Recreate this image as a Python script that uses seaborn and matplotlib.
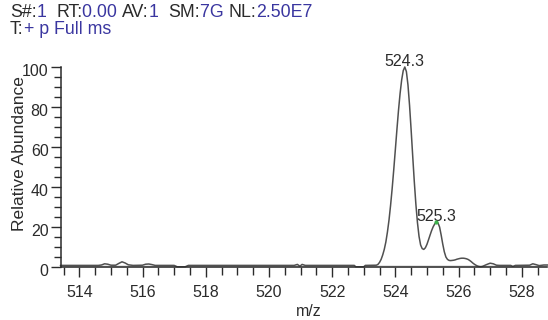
import matplotlib
matplotlib.use("Agg")
import matplotlib.pyplot as plt
from matplotlib.ticker import MultipleLocator, FixedLocator
from matplotlib.transforms import ScaledTranslation
import seaborn as sns

# Profile spectrum: m/z and relative abundance (%)
mz = [
    513.40, 514.60, 514.70, 514.80, 514.90, 515.00, 515.15, 515.25, 515.35, 515.45,
    515.55, 515.70, 516.00, 516.10, 516.20, 516.30, 516.40, 517.00, 517.10, 517.35,
    517.45, 520.80, 520.90, 520.98, 521.05, 521.15, 522.70, 522.75, 523.00, 523.05,
    523.40, 523.45, 523.50, 523.55, 523.60, 523.65, 523.70, 523.75, 523.80, 523.85,
    523.90, 523.95, 524.00, 524.05, 524.10, 524.15, 524.20, 524.25, 524.30, 524.35,
    524.40, 524.45, 524.50, 524.55, 524.60, 524.65, 524.70, 524.75, 524.80, 524.85,
    524.90, 524.95, 525.00, 525.05, 525.10, 525.15, 525.20, 525.25, 525.30, 525.35,
    525.40, 525.45, 525.50, 525.55, 525.60, 525.65, 525.70, 525.75, 525.80, 525.85,
    525.90, 525.95, 526.00, 526.05, 526.10, 526.15, 526.20, 526.25, 526.30, 526.35,
    526.40, 526.45, 526.50, 526.55, 526.60, 526.65, 526.70, 526.75, 526.80, 526.90,
    527.00, 527.10, 527.20, 527.30, 527.65, 527.72, 527.80, 528.25, 528.35, 528.45,
    528.55, 528.70, 528.85,
]
abundance = [
    0.8, 0.8, 1.0, 1.6, 1.4, 0.9, 0.9, 1.8, 2.6, 2.0,
    1.1, 0.8, 0.9, 1.4, 1.5, 1.2, 0.8, 0.8, 0.1, 0.1,
    0.8, 0.8, 1.3, 0.4, 1.3, 0.8, 0.8, 0.1, 0.1, 0.8,
    0.9, 1.3, 2.3, 3.8, 6.0, 8.8, 12.5, 17.5, 23.5, 30.9,
    39.3, 48.7, 58.6, 68.7, 78.3, 86.7, 93.5, 98.2, 100.0, 97.7,
    91.0, 80.8, 68.5, 55.4, 42.7, 31.4, 22.2, 15.3, 11.0, 9.2,
    8.8, 9.6, 11.3, 13.6, 16.0, 18.3, 20.2, 21.6, 22.5, 22.0,
    20.0, 16.0, 11.5, 7.6, 5.0, 3.8, 3.3, 3.2, 3.3, 3.4,
    3.6, 3.9, 4.1, 4.3, 4.4, 4.4, 4.3, 4.1, 3.8, 3.3,
    2.7, 2.0, 1.4, 0.9, 0.5, 0.3, 0.2, 0.3, 0.6, 1.3,
    1.9, 1.6, 0.9, 0.8, 0.8, 0.3, 0.8, 0.9, 1.6, 1.2,
    0.7, 1.0, 1.0,
]

# Labelled peaks
peak_mz = [524.3, 525.3]
peak_abund = [100.0, 22.5]
peak_labels = ["524.3", "525.3"]

# Axis ticks
x_ticks = [514, 516, 518, 520, 522, 524, 526, 528]
y_ticks = [0, 20, 40, 60, 80, 100]

# Scan header: (field name, value) pieces, drawn one after another
header_line1 = [("S#:", "1  "), ("RT:", "0.00 "), ("AV:", "1  "), ("SM:", "7G "), ("NL:", "2.50E7")]
header_line2 = [("T:", "+ p Full ms")]

sns.set_theme(style="ticks")
plt.rcParams["font.family"] = ["Liberation Sans", "DejaVu Sans"]

W, H = 548, 320
fig = plt.figure(figsize=(W / 100, H / 100), dpi=100)
fig.patch.set_facecolor("white")

ax_left, ax_right, ax_top, ax_bottom = 61, 546.7, 67, 267
ax = fig.add_axes([ax_left / W, 1 - ax_bottom / H,
                   (ax_right - ax_left) / W, (ax_bottom - ax_top) / H])
ax.set_facecolor("white")

# light baseline band under the trace, then the trace itself
ax.fill_between(mz, 0, [min(a, 1.0) for a in abundance], color="#cfcfcf",
                linewidth=0, zorder=1)
sns.lineplot(x=mz, y=abundance, ax=ax, color="#505050", linewidth=1.1,
             sort=False, estimator=None, clip_on=False, zorder=2)

ax.set_xlim(513.42, 528.79)
ax.set_ylim(0, 100)

ink = "#2b2b2b"
ax.xaxis.set_major_locator(FixedLocator(x_ticks))
ax.xaxis.set_minor_locator(MultipleLocator(0.5))
ax.yaxis.set_major_locator(FixedLocator(y_ticks))
ax.yaxis.set_minor_locator(MultipleLocator(5))
ax.tick_params(axis="x", which="major", length=7, width=1.0, color=ink,
               labelsize=11.5, labelcolor=ink, pad=6)
ax.tick_params(axis="x", which="minor", length=6, width=1.0, color=ink)
ax.tick_params(axis="y", which="major", length=7, width=1.0, color=ink,
               labelsize=11.5, labelcolor=ink, pad=2)
ax.tick_params(axis="y", which="minor", length=5, width=1.0, color=ink)
shift_down = ScaledTranslation(0, -3 / 100, fig.dpi_scale_trans)
for lbl in ax.get_yticklabels():
    lbl.set_verticalalignment("center_baseline")
    lbl.set_transform(lbl.get_transform() + shift_down)

for side in ("top", "right"):
    ax.spines[side].set_visible(False)
for side in ("left", "bottom"):
    ax.spines[side].set_color(ink)
    ax.spines[side].set_linewidth(1.1)

ax.set_xlabel("m/z", fontsize=11.5, color=ink)
ax.xaxis.label.set_verticalalignment("baseline")
ax.xaxis.set_label_coords((309 - ax_left) / (ax_right - ax_left), (ax_bottom - 316) / 200)
ax.set_ylabel("Relative Abundance", fontsize=12.5, color=ink)
ax.yaxis.label.set_verticalalignment("center")
ax.yaxis.set_label_coords((20 - ax_left) / (ax_right - ax_left), (ax_bottom - 153.5) / 200)

# Peak annotations
for x, y, s in zip(peak_mz, peak_abund, peak_labels):
    ax.annotate(s, xy=(x, y), xytext=(0, 1), textcoords="offset points",
                ha="center", va="baseline", fontsize=11.5, color=ink,
                annotation_clip=False)
ax.plot([peak_mz[1]], [peak_abund[1]], marker="o", markersize=2, color="#3cb44b",
        linestyle="none", clip_on=False, zorder=3)

# Scan header, field names in dark grey and values in blue
name_color, value_color = "#2b2b2b", "#3a36a0"
header_size = 12.75


def header(items, x0, baseline):
    prev = fig.text(x0 / W, 1 - baseline / H, "", fontsize=header_size,
                    ha="left", va="baseline")
    for name, value in items:
        for s, c in ((name, name_color), (value, value_color)):
            prev = ax.annotate(s, xy=(1, 0), xycoords=prev, ha="left", va="bottom",
                               fontsize=header_size, color=c, annotation_clip=False)


header(header_line1, 10, 20.7)
header(header_line2, 10, 37.5)

fig.savefig("out.png", dpi=100, facecolor="white")
